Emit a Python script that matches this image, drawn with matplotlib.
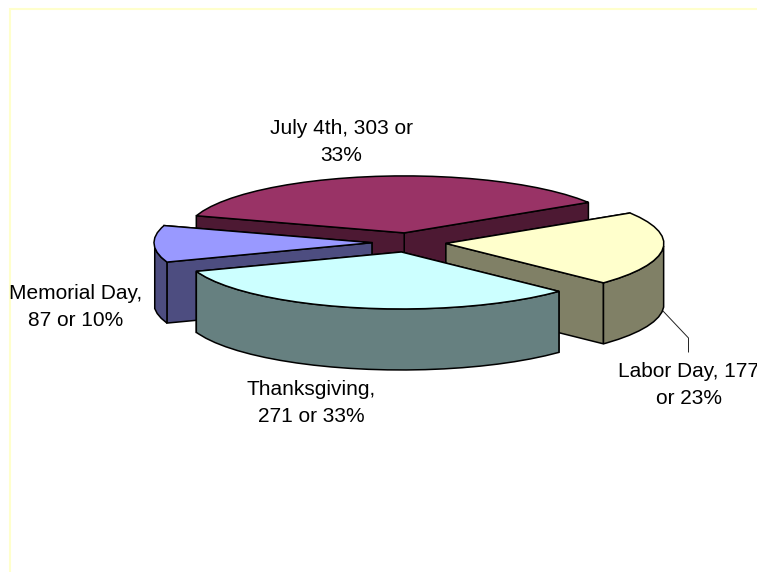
import numpy as np
import matplotlib
matplotlib.use('Agg')
import matplotlib.pyplot as plt
from matplotlib.patches import Polygon

# clockwise from the left edge of the July 4th slice
names = ['July 4th', 'Labor Day', 'Thanksgiving', 'Memorial Day']
values = [303, 177, 271, 87]
labels = ['July 4th, 303 or\n33%', 'Labor Day, 177\nor 23%',
          'Thanksgiving,\n271 or 33%', 'Memorial Day,\n87 or 10%']
top_colors = ['#993366', '#ffffcc', '#ccffff', '#9999ff']
side_colors = ['#4d1933', '#808066', '#668080', '#4d4d80']
label_pos = [(341, 142), (689, 385), (311, 403), (76, 307)]
draw_order = [0, 3, 1, 2]

start_angle = 162.5
cx, cy = 409, 242.5
rx, ry = 218, 57
depth = 61
explode = 0.17
lw = 1.1

plt.rcParams['font.family'] = ['Liberation Sans', 'DejaVu Sans']

fig = plt.figure(figsize=(7.57, 5.72), dpi=100)
ax = fig.add_axes([0, 0, 1, 1])
ax.set_xlim(0, 757)
ax.set_ylim(572, 0)
ax.axis('off')

# pale frame, only top and left are visible
ax.plot([10, 10, 757], [572, 8.5, 8.5], color='#ffffcc', lw=1.5, solid_joinstyle='miter')

sweeps = np.array(values) / sum(values) * 360
starts = start_angle - np.concatenate(([0], np.cumsum(sweeps)[:-1]))


def pt(c, deg, dz=0):
    a = np.radians(deg)
    return c[0] + rx * np.cos(a), c[1] - ry * np.sin(a) + dz


for i in draw_order:
    a0 = starts[i]
    a1 = a0 - sweeps[i]
    mid = np.radians((a0 + a1) / 2)
    c = (cx + explode * rx * np.cos(mid), cy - explode * ry * np.sin(mid))
    z = 10 + draw_order.index(i)

    # radial walls, the one further back first
    for a in sorted([a0, a1], key=lambda d: -np.sin(np.radians(d))):
        p = pt(c, a)
        wall = [c, p, (p[0], p[1] + depth), (c[0], c[1] + depth)]
        ax.add_patch(Polygon(wall, closed=True, fc=side_colors[i], ec='black', lw=lw, zorder=z))

    # outer wall, only the part facing front
    arc = np.arange(a0, a1, -5.0)
    arc = np.append(arc, a1)
    front = arc[np.sin(np.radians(arc)) <= 0]
    if len(front) > 1:
        upper = [pt(c, a) for a in front]
        lower = [pt(c, a, depth) for a in front[::-1]]
        ax.add_patch(Polygon(upper + lower, closed=True, fc=side_colors[i], ec='black', lw=lw,
                             zorder=z))

    # top face
    top = [c] + [pt(c, a) for a in arc]
    ax.add_patch(Polygon(top, closed=True, fc=top_colors[i], ec='black', lw=lw, zorder=z))

# leader line for Labor Day
ax.plot([663, 688.5, 688.5], [311, 338, 352], color='#222222', lw=0.7, zorder=5)

for text, (x, y) in zip(labels, label_pos):
    ax.text(x, y, text, ha='center', va='center', fontsize=15, linespacing=1.48, color='black',
            zorder=30)

fig.savefig('out.png', dpi=100)
